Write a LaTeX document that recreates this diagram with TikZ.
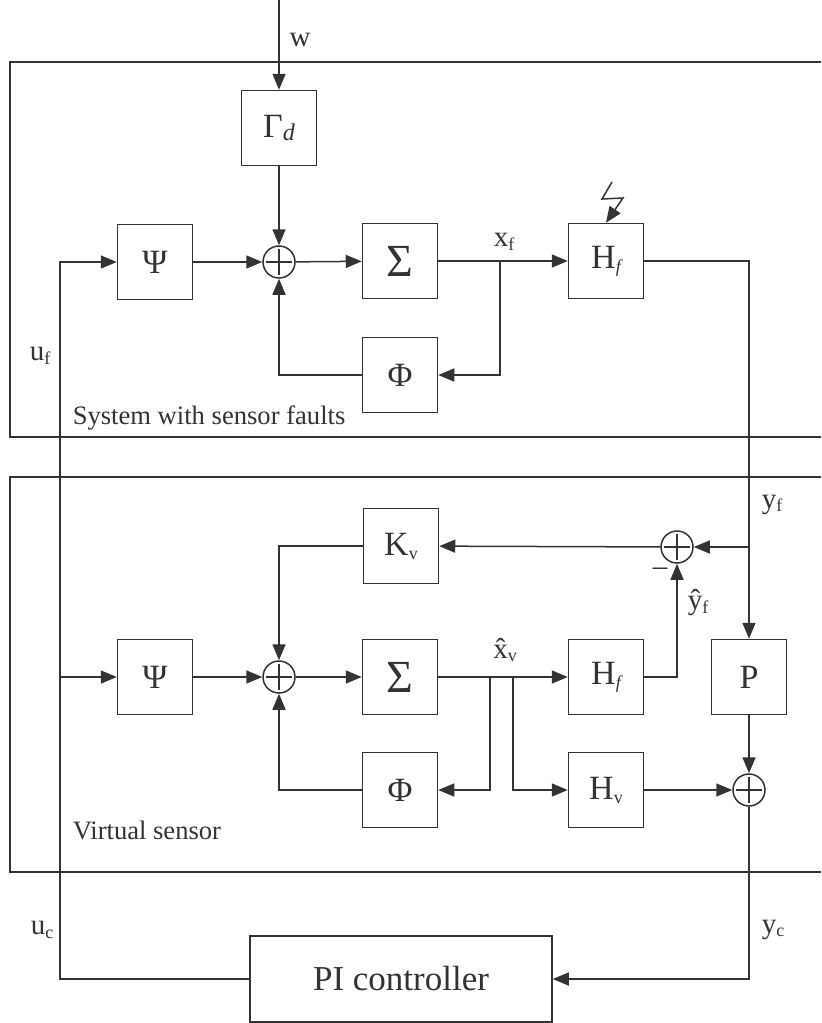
\documentclass[tikz,border=0pt]{standalone}
\usepackage{fontspec}
\setmainfont{Liberation Serif}
\usetikzlibrary{arrows.meta}

% small lowered index, as in u_f, H_f
\newcommand{\idx}[1]{\raisebox{-0.25ex}{\fontsize{9}{9}\selectfont #1}}

\tikzset{
  blk/.style={draw, minimum width=37.5pt, minimum height=37.5pt, inner sep=0pt,
              font=\fontsize{17}{19}\selectfont},
  sumnode/.style={draw, circle, minimum size=16pt, inner sep=0pt,
    path picture={\draw ([yshift=-1.5pt]path picture bounding box.north) -- ([yshift=1.5pt]path picture bounding box.south)
                        ([xshift=1.5pt]path picture bounding box.west) -- ([xshift=-1.5pt]path picture bounding box.east);}},
  lbl/.style={font=\fontsize{14.5}{16}\selectfont, inner sep=0pt},
  frametxt/.style={font=\fontsize{13.3}{15}\selectfont, inner sep=0pt, anchor=west},
}

\begin{document}
\begin{tikzpicture}[x=0.5pt, y=-0.5pt, >={Triangle[length=8pt,width=6.5pt]},
                    line width=0.75pt, color=black!80]
\useasboundingbox (0,0) rectangle (821,1023);
% frames
\draw (821,62) -- (10,62) -- (10,437) -- (821,437);
\draw (821,477) -- (10,477) -- (10,872) -- (821,872);
\node[frametxt] (sysTxt) at (72,418) {System with sensor faults};
\node[frametxt] (vsTxt) at (72,830) {Virtual sensor};

% system with sensor faults
\node[blk] (gamma) at (279,128) {Γ\raisebox{-0.2ex}{\fontsize{12}{12}\selectfont\itshape d}};
\node[blk] (psiA) at (155,262) {Ψ};
\node[sumnode] (sumA) at (279,262) {};
\node[blk, font=\fontsize{23}{24}\selectfont] (sigA) at (400,261) {Σ};
\node[blk] (hfA) at (606,261) {H\idx{\itshape f}};
\node[blk] (phiA) at (400,375) {Φ};

% virtual sensor
\node[blk] (kv) at (401,546) {K\idx{v}};
\node[sumnode] (sumD) at (677,547) {};
\node[blk] (psiB) at (155,677) {Ψ};
\node[sumnode] (sumB) at (279,677) {};
\node[blk, font=\fontsize{23}{24}\selectfont] (sigB) at (400,677) {Σ};
\node[blk] (hfB) at (606,677) {H\idx{\itshape f}};
\node[blk] (pB) at (749,677) {P};
\node[blk] (phiB) at (400,790) {Φ};
\node[blk] (hv) at (606,790) {H\idx{v}};
\node[sumnode] (sumC) at (749,790) {};

% controller
\node[draw, minimum width=151pt, minimum height=43pt, font=\fontsize{17.5}{19}\selectfont]
  (pic) at (401,979) {PI controller};

% branch points
\coordinate (wTop) at (279,0);
\coordinate (xf) at (500,261);
\coordinate (yf) at (749,547);
\coordinate (xvA) at (490,677);
\coordinate (xvB) at (513,677);
\coordinate (uA) at (60,262);
\coordinate (uB) at (60,677);
\coordinate (uC) at (60,979);

% top loop
\draw[->] (wTop) -- (gamma);
\draw[->] (gamma) -- (sumA);
\draw[->] (psiA) -- (sumA);
\draw[->] (sumA) -- (sigA);
\draw[->] (sigA) -- (hfA);
\draw[->] (xf) |- (phiA);
\draw[->] (phiA) -| (sumA);
\draw[->] (hfA) -| (pB);
\draw[->] (612,182) -- (602,199) -- (623,198) -- (hfA.north);

% virtual sensor loop
\draw[->] (yf) -- (sumD);
\draw[->] (sumD) -- (kv);
\draw[->] (kv) -| (sumB);
\draw[->] (psiB) -- (sumB);
\draw[->] (sumB) -- (sigB);
\draw[->] (sigB) -- (hfB);
\draw[->] (xvA) |- (phiB);
\draw[->] (xvB) |- (hv);
\draw[->] (phiB) -| (sumB);
\draw[->] (hfB) -| (sumD);
\draw[->] (pB) -- (sumC);
\draw[->] (hv) -- (sumC);

% control loop
\draw[->] (sumC) |- (pic);
\draw[->] (pic) -- (uC) -- (uA) -- (psiA);
\draw[->] (uB) -- (psiB);

% labels
\node[lbl] (wLbl) at (300,40) {w};
\node[lbl] (xfLbl) at (504,242) {x\idx{f}};
\node[lbl] (ufLbl) at (40,356) {u\idx{f}};
\node[lbl] (yfLbl) at (772,505) {y\idx{f}};
\node[lbl, anchor=base] (minus) at (660,575) {–};
\node[lbl] (yhLbl) at (698,603) {\^y\idx{f}};
\node[lbl] (xvLbl) at (505,650) {\^x\idx{v}};
\node[lbl] (ucLbl) at (42,930) {u\idx{c}};
\node[lbl] (ycLbl) at (773,930) {y\idx{c}};
\end{tikzpicture}
\end{document}
